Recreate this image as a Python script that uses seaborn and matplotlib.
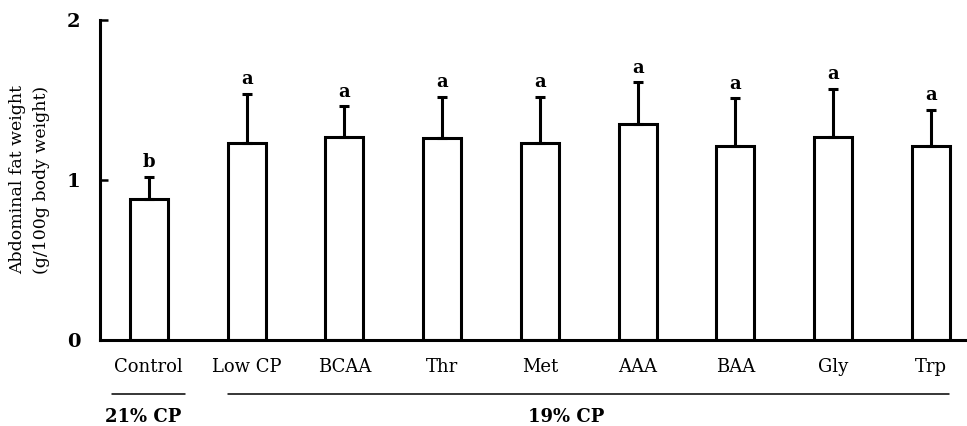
import matplotlib
matplotlib.use("Agg")
import matplotlib.pyplot as plt
import matplotlib.transforms as mtransforms
import seaborn as sns
import pandas as pd
import numpy as np

categories = ["Control", "Low CP", "BCAA", "Thr", "Met", "AAA", "BAA", "Gly", "Trp"]
means = [0.88, 1.23, 1.27, 1.26, 1.23, 1.35, 1.21, 1.27, 1.21]
sds = [0.14, 0.31, 0.19, 0.26, 0.29, 0.26, 0.30, 0.30, 0.23]
letters = ["b", "a", "a", "a", "a", "a", "a", "a", "a"]
groups = [("21% CP", 0, 0), ("19% CP", 1, 8)]
yticks = [0, 1, 2]

sns.set_theme(style="white")
plt.rcParams["font.family"] = ["DejaVu Serif"]
plt.rcParams["text.color"] = "black"
plt.rcParams["xtick.color"] = "black"
plt.rcParams["ytick.color"] = "black"
plt.rcParams["axes.labelcolor"] = "black"

df = pd.DataFrame({"cat": categories, "val": means})

fig = plt.figure(figsize=(9.67, 4.26), dpi=100)
ax = fig.add_axes([100/967, 86/426, 867/967, 320/426])

sns.barplot(data=df, x="cat", y="val", order=categories, ax=ax, fill=False,
            color="black", edgecolor="black", linewidth=2.2, width=0.39,
            errorbar=None)
for p in ax.patches:
    p.set_facecolor("white")
    p.set_edgecolor("black")
    p.set_linewidth(2.2)

xs = np.arange(len(categories))
ax.errorbar(xs, means, yerr=[np.zeros(len(sds)), sds], fmt="none",
            ecolor="black", elinewidth=2.2, capsize=3.5, capthick=2.2)
for x, m, s, l in zip(xs, means, sds, letters):
    ax.annotate(l, (x, m + s), xytext=(0, 4), textcoords="offset points",
                ha="center", va="bottom", fontsize=13, fontweight="bold",
                color="black")

ax.set_xlim(-0.5, 8.37)
ax.set_ylim(0, 2)
ax.set_yticks(yticks)
ax.set_yticklabels([str(t) for t in yticks], fontsize=14, fontweight="bold")
ax.tick_params(axis="y", direction="in", length=6, width=1.8, pad=14, left=True,
               colors="black")
ax.tick_params(axis="x", length=0, pad=13, labelsize=13, colors="black")
ax.set_xlabel("")
ax.set_ylabel("Abdominal fat weight\n(g/100g body weight)", fontsize=12.5,
              color="black", linespacing=1.5)
ax.yaxis.set_label_coords(-0.058, 0.5)

for side in ["top", "right"]:
    ax.spines[side].set_visible(False)
for side in ["left", "bottom"]:
    ax.spines[side].set_linewidth(2.2)
    ax.spines[side].set_color("black")

trans = mtransforms.blended_transform_factory(ax.transData, ax.transAxes)
for name, i0, i1 in groups:
    x0 = i0 - 0.38 if i0 == 0 else i0 - 0.19
    x1 = i1 + 0.37 if i1 == 0 else i1 + 0.19
    ax.plot([x0, x1], [-0.169, -0.169], transform=trans, color="black",
            lw=1.1, clip_on=False)
    cx = (i0 + i1) / 2 if i0 == i1 else 4.27
    ax.text(cx - 0.06 if i0 == 0 else cx, -0.24, name, transform=trans,
            ha="center", va="center", fontsize=13, fontweight="bold",
            color="black")

fig.savefig("out.png", dpi=100, facecolor="white")
